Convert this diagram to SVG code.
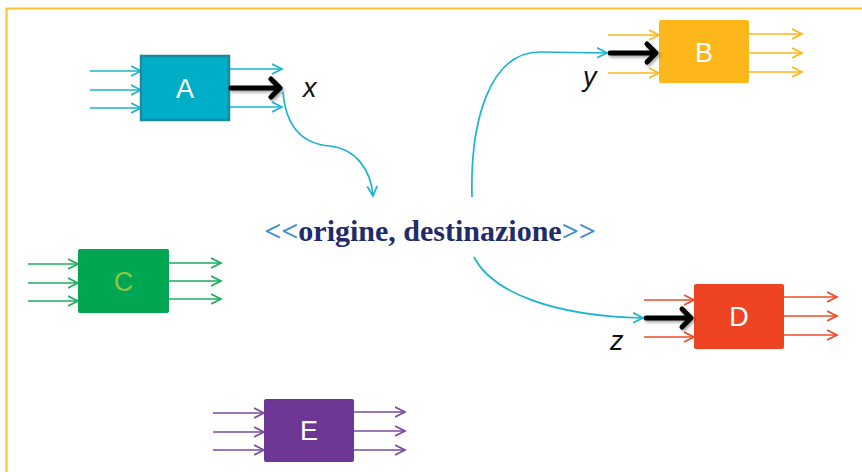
<svg xmlns="http://www.w3.org/2000/svg" width="862" height="472" viewBox="0 0 862 472">
<style>
.thin{fill:none;stroke-width:1.7}
.cy{stroke:#1AB3D1;marker-end:url(#mc)}
.or{stroke:#FDB71A;marker-end:url(#mo)}
.rd{stroke:#EF4B2A;marker-end:url(#mr)}
.gr{stroke:#1BAD5C;marker-end:url(#mg)}
.pu{stroke:#7A4A9E;marker-end:url(#mp)}
.thick{fill:none;stroke:#000;stroke-width:5;stroke-linecap:round;stroke-linejoin:round}
.lbl{font-family:"Liberation Sans",Arial,sans-serif;font-size:27px;fill:#fff;text-anchor:middle}
.var{font-family:"Liberation Sans",Arial,sans-serif;font-size:27px;font-style:italic;fill:#111}
</style>
<defs>
<marker id="mc" markerUnits="userSpaceOnUse" markerWidth="12" markerHeight="12" refX="10" refY="6" orient="auto"><path d="M0,1 L10,6 L0,11" fill="none" stroke="#1AB3D1" stroke-width="1.7"/></marker>
<marker id="mo" markerUnits="userSpaceOnUse" markerWidth="12" markerHeight="12" refX="10" refY="6" orient="auto"><path d="M0,1 L10,6 L0,11" fill="none" stroke="#FDB71A" stroke-width="1.7"/></marker>
<marker id="mr" markerUnits="userSpaceOnUse" markerWidth="12" markerHeight="12" refX="10" refY="6" orient="auto"><path d="M0,1 L10,6 L0,11" fill="none" stroke="#EF4B2A" stroke-width="1.7"/></marker>
<marker id="mg" markerUnits="userSpaceOnUse" markerWidth="12" markerHeight="12" refX="10" refY="6" orient="auto"><path d="M0,1 L10,6 L0,11" fill="none" stroke="#1BAD5C" stroke-width="1.7"/></marker>
<marker id="mp" markerUnits="userSpaceOnUse" markerWidth="12" markerHeight="12" refX="10" refY="6" orient="auto"><path d="M0,1 L10,6 L0,11" fill="none" stroke="#7A4A9E" stroke-width="1.7"/></marker>
<filter id="sh" x="-20%" y="-50%" width="140%" height="200%"><feDropShadow dx="1.5" dy="2" stdDeviation="1.5" flood-color="#000" flood-opacity="0.35"/></filter>
</defs>
<rect width="862" height="472" fill="#fff"/>
<path d="M6.5,472 L6.5,8.5 L862,8.5" fill="none" stroke="#FDC02F" stroke-width="2"/>

<g id="A">
<path class="thin cy" d="M90,71 H141"/>
<path class="thin cy" d="M90,90 H141"/>
<path class="thin cy" d="M90,108 H141"/>
<path class="thin cy" d="M229,69 H282"/>
<path class="thin cy" d="M229,107 H282"/>
<rect x="141" y="56" width="88" height="64" fill="#00AEC7" stroke="#1A8AA3" stroke-width="2.5"/>
<text class="lbl" x="185" y="98">A</text>
<g filter="url(#sh)"><path class="thick" d="M231,88 H280 M271,79 L280,88 L271,97"/></g>
<text class="var" x="303" y="97">x</text>
</g>

<g id="B">
<path class="thin or" d="M608,35 H659"/>
<path class="thin or" d="M608,73 H659"/>
<path class="thin or" d="M749,34 H802"/>
<path class="thin or" d="M749,53 H802"/>
<path class="thin or" d="M749,72 H802"/>
<rect x="659" y="20" width="90" height="63" rx="2" fill="#FDB71A"/>
<text class="lbl" x="704" y="62">B</text>
<g filter="url(#sh)"><path class="thick" d="M610,53 H656 M647,44 L656,53 L647,62"/></g>
<text class="var" x="583" y="86">y</text>
</g>

<g id="C">
<path class="thin gr" d="M28,264 H78"/>
<path class="thin gr" d="M28,283 H78"/>
<path class="thin gr" d="M28,301 H78"/>
<path class="thin gr" d="M169,263 H221"/>
<path class="thin gr" d="M169,281 H221"/>
<path class="thin gr" d="M169,299 H221"/>
<rect x="78" y="249" width="91" height="64" rx="2" fill="#00A651"/>
<text class="lbl" x="123.5" y="291" style="fill:#8DC63F">C</text>
</g>

<g id="D">
<path class="thin rd" d="M644,300 H694"/>
<path class="thin rd" d="M644,337 H694"/>
<path class="thin rd" d="M784,297 H837"/>
<path class="thin rd" d="M784,316 H837"/>
<path class="thin rd" d="M784,335 H837"/>
<rect x="694" y="284" width="90" height="65" rx="2" fill="#EE4423"/>
<text class="lbl" x="739" y="326">D</text>
<g filter="url(#sh)"><path class="thick" d="M646,318 H691 M682,309 L691,318 L682,327"/></g>
<text class="var" x="610" y="350">z</text>
</g>

<g id="E">
<path class="thin pu" d="M213,413 H264"/>
<path class="thin pu" d="M213,432 H264"/>
<path class="thin pu" d="M213,450 H264"/>
<path class="thin pu" d="M354,412 H405"/>
<path class="thin pu" d="M354,431 H405"/>
<path class="thin pu" d="M354,450 H405"/>
<rect x="264" y="399" width="90" height="63" rx="2" fill="#6F3795"/>
<text class="lbl" x="309" y="440">E</text>
</g>

<g id="center">
<text x="430" y="241" text-anchor="middle" font-family="'Liberation Serif','Times New Roman',serif" font-size="30" font-weight="bold" fill="#1F2C6B"><tspan fill="#3A8DD0">&lt;&lt;</tspan>origine, destinazione<tspan fill="#3A8DD0">&gt;&gt;</tspan></text>
</g>

<g id="connectors">
<path class="thin cy" d="M283,92 C286,128 303,144 330,146 C356,149 371,170 373,196"/>
<path class="thin cy" d="M472,197 C470,120 490,52 540,52 L607,53"/>
<path class="thin cy" d="M474,257 C492,292 552,316 643,318"/>
</g>
</svg>
